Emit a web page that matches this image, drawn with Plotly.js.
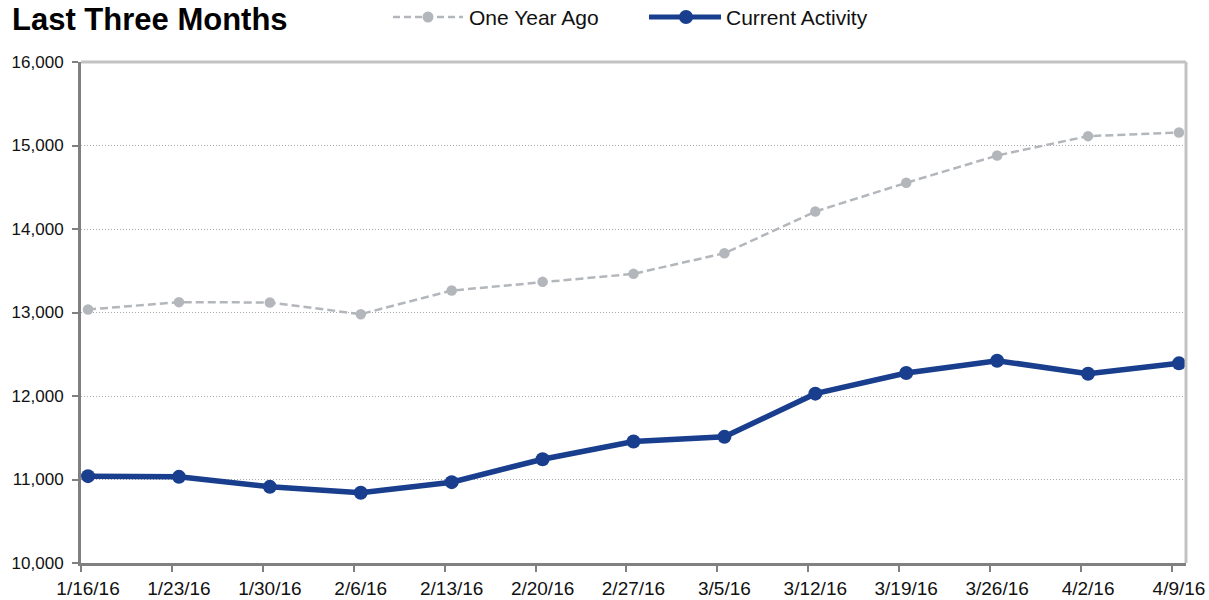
<!DOCTYPE html>
<html>
<head>
<meta charset="utf-8">
<script src="https://cdn.plot.ly/plotly-3.0.1.min.js"></script>
<style>
html,body{margin:0;padding:0;background:#fff;}
#chart{width:1209px;height:600px;}
</style>
</head>
<body>
<div id="chart"></div>
<script>
// ---- data ----
var weekDates = ['2016-01-16','2016-01-23','2016-01-30','2016-02-06','2016-02-13','2016-02-20','2016-02-27',
                 '2016-03-05','2016-03-12','2016-03-19','2016-03-26','2016-04-02','2016-04-09'];
var tickLabels = ['1/16/16','1/23/16','1/30/16','2/6/16','2/13/16','2/20/16','2/27/16',
                  '3/5/16','3/12/16','3/19/16','3/26/16','4/2/16','4/9/16'];
var oneYearAgo = [13036,13124,13120,12980,13263,13367,13463,13710,14209,14553,14880,15112,15156];
var currentActivity = [11040,11032,10912,10841,10968,11243,11455,11511,12028,12275,12423,12267,12391];
var yTicks = [10000,11000,12000,13000,14000,15000,16000];
var seriesNames = ['One Year Ago','Current Activity'];

// ---- layout helpers (pixel -> paper) ----
var L = 81, R = 1186, T = 62, B = 563;
function px(x){ return (x - L) / (R - L); }
function py(y){ return (B - y) / (B - T); }

var grayC = '#b3b7bb', blueC = '#183e8d', axisC = '#808080', borderC = '#c3c3c3';
var fontFam = 'Liberation Sans, Arial, sans-serif';

var traces = [
  {x: weekDates, y: oneYearAgo, name: seriesNames[0], type: 'scatter', mode: 'lines+markers',
   line: {color: grayC, width: 2.5, dash: '8px,4px'}, marker: {color: grayC, size: 10.5}, showlegend: false},
  {x: weekDates, y: currentActivity, name: seriesNames[1], type: 'scatter', mode: 'lines+markers',
   line: {color: blueC, width: 5.5}, marker: {color: blueC, size: 14}, showlegend: false}
];

var shapes = [
  // top and right light borders
  {type:'line', xref:'paper', yref:'paper', x0:0, x1:1, y0:1, y1:1, line:{color:borderC, width:3}},
  {type:'line', xref:'paper', yref:'paper', x0:1, x1:1, y0:0, y1:1, line:{color:borderC, width:3}},
  // legend lines
  {type:'line', xref:'paper', yref:'paper', x0:px(393), x1:px(463), y0:py(17), y1:py(17),
   line:{color:grayC, width:2.5, dash:'7px,4px'}},
  {type:'circle', xref:'paper', yref:'paper', xsizemode:'pixel', ysizemode:'pixel',
   xanchor:px(428), yanchor:py(17), x0:-5.5, x1:5.5, y0:-5.5, y1:5.5, fillcolor:grayC, line:{width:0}},
  {type:'line', xref:'paper', yref:'paper', x0:px(649), x1:px(721), y0:py(17), y1:py(17),
   line:{color:blueC, width:5}},
  {type:'circle', xref:'paper', yref:'paper', xsizemode:'pixel', ysizemode:'pixel',
   xanchor:px(686), yanchor:py(17), x0:-7, x1:7, y0:-7, y1:7, fillcolor:blueC, line:{width:0}}
];

var annotations = [
  {xref:'paper', yref:'paper', x:px(467), y:py(17), xanchor:'left', yanchor:'middle', showarrow:false,
   text:seriesNames[0], font:{family:fontFam, size:21, color:'#111'}},
  {xref:'paper', yref:'paper', x:px(724), y:py(17), xanchor:'left', yanchor:'middle', showarrow:false,
   text:seriesNames[1], font:{family:fontFam, size:21, color:'#111'}}
];

var layout = {
  width: 1209, height: 600,
  margin: {l: L, r: 1209 - R, t: T, b: 600 - B},
  paper_bgcolor: '#fff', plot_bgcolor: '#fff',
  showlegend: false,
  title: {text: '<b>Last Three Months</b>', x: 12/1209, xanchor: 'left', xref: 'container', yref: 'container',
          y: 1 - 19/600, yanchor: 'middle',
          font: {family: fontFam, size: 31, color: '#000'}},
  xaxis: {
    type: 'date',
    range: ['2016-01-15 11:00', '2016-04-09 13:00'],
    tickvals: weekDates, ticktext: tickLabels,
    ticks: '', showgrid: false, zeroline: false,
    showline: true, linecolor: axisC, linewidth: 3,
    tickfont: {family: fontFam, size: 19, color: '#111'},
    ticklabelstandoff: 6,
    minor: {ticks: 'outside', tick0: '2016-01-15 11:00', dtick: 604800000, ticklen: 6, tickwidth: 2,
            tickcolor: axisC, showgrid: false},
    fixedrange: true
  },
  yaxis: {
    range: [10000, 16000],
    tickvals: yTicks,
    tickformat: ',d',
    ticks: 'outside', ticklen: 6, tickwidth: 2, tickcolor: axisC,
    showline: true, linecolor: axisC, linewidth: 3,
    showgrid: true, gridcolor: '#a8a8a8', gridwidth: 1, griddash: '1px,2px',
    zeroline: false,
    tickfont: {family: fontFam, size: 17, color: '#111'},
    ticklabelstandoff: 5,
    fixedrange: true
  },
  shapes: shapes,
  annotations: annotations
};

Plotly.newPlot('chart', traces, layout, {displayModeBar: false, staticPlot: true});
</script>
</body>
</html>
